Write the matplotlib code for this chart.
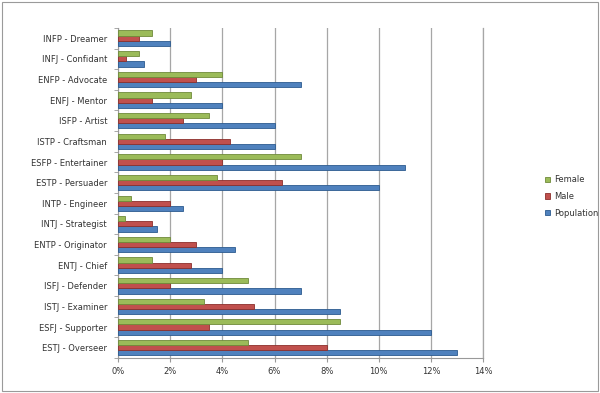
import matplotlib.pyplot as plt
import numpy as np
from matplotlib.ticker import FuncFormatter
from matplotlib.patches import Rectangle

# categories listed from bottom to top
types = ["ESTJ - Overseer", "ESFJ - Supporter", "ISTJ - Examiner", "ISFJ - Defender",
         "ENTJ - Chief", "ENTP - Originator", "INTJ - Strategist", "INTP - Engineer",
         "ESTP - Persuader", "ESFP - Entertainer", "ISTP - Craftsman", "ISFP - Artist",
         "ENFJ - Mentor", "ENFP - Advocate", "INFJ - Confidant", "INFP - Dreamer"]
female = [5.0, 8.5, 3.3, 5.0, 1.3, 2.0, 0.25, 0.5, 3.8, 7.0, 1.8, 3.5, 2.8, 4.0, 0.8, 1.3]
male = [8.0, 3.5, 5.2, 2.0, 2.8, 3.0, 1.3, 2.0, 6.3, 4.0, 4.3, 2.5, 1.3, 3.0, 0.3, 0.8]
population = [13.0, 12.0, 8.5, 7.0, 4.0, 4.5, 1.5, 2.5, 10.0, 11.0, 6.0, 6.0, 4.0, 7.0, 1.0, 2.0]

fig = plt.figure(figsize=(6, 3.93), dpi=100)
fig.patches.append(Rectangle((0.004, 0.005), 0.992, 0.99, transform=fig.transFigure,
                             fill=False, edgecolor="#9a9a9a", linewidth=0.8))
ax = fig.add_axes([0.197, 0.089, 0.608, 0.84])

y = np.arange(len(types))
h = 0.25
ax.barh(y - h, population, height=h, color="#4F81BD", edgecolor="#2c5a8f", linewidth=0.6,
        label="Population", zorder=3)
ax.barh(y, male, height=h, color="#C0504D", edgecolor="#8c2f2c", linewidth=0.6,
        label="Male", zorder=3)
ax.barh(y + h, female, height=h, color="#9BBB59", edgecolor="#6f8a3a", linewidth=0.6,
        label="Female", zorder=3)

ax.set_xlim(0, 14)
ax.set_ylim(-0.5, len(types) - 0.5)
ax.set_xticks(np.arange(0, 15, 2))
ax.xaxis.set_major_formatter(FuncFormatter(lambda v, p: f"{v:.0f}%"))
ax.set_yticks(y)
ax.set_yticklabels(types)
ax.set_yticks(np.arange(-0.5, len(types), 1), minor=True)
ax.tick_params(axis="y", which="major", length=0, labelsize=6, labelcolor="#333333", pad=8)
ax.tick_params(axis="y", which="minor", length=3, color="#999999")
ax.tick_params(axis="x", length=3, color="#999999", labelsize=6, labelcolor="#333333")

ax.grid(axis="x", color="#a6a6a6", linewidth=0.9, zorder=0)
ax.axvline(14, color="#a6a6a6", linewidth=0.9, zorder=0, clip_on=False)
for s in ["top", "right"]:
    ax.spines[s].set_visible(False)
ax.spines["left"].set_color("#999999")
ax.spines["bottom"].set_color("#999999")

handles, labels = ax.get_legend_handles_labels()
leg = fig.legend(handles[::-1], labels[::-1], loc="center left",
                 bbox_to_anchor=(0.895, 0.5), frameon=False, fontsize=6,
                 handlelength=0.6, handleheight=0.6, labelspacing=0.9, handletextpad=0.5)
for t in leg.get_texts():
    t.set_color("#333333")

fig.savefig("out.png", dpi=100)
